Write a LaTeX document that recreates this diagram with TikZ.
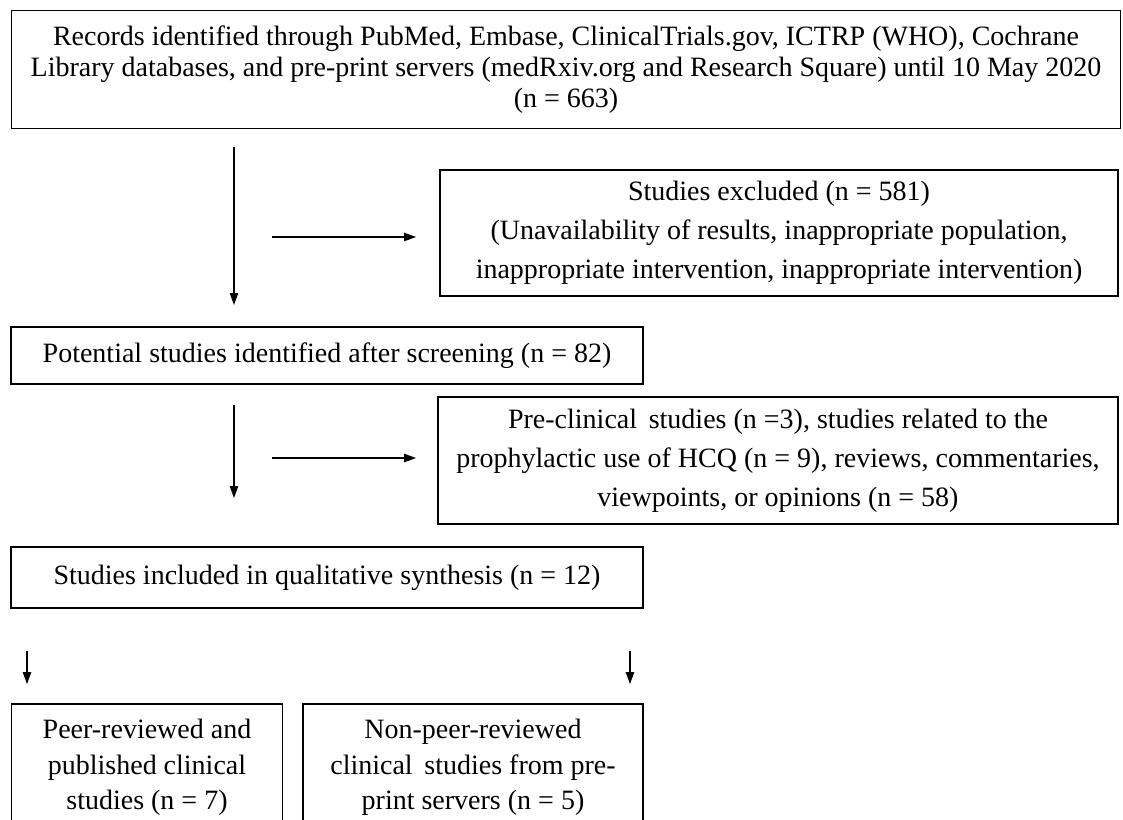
\documentclass[tikz,border=0pt]{standalone}
\usepackage{fontspec}
\setmainfont{Liberation Serif}
\usetikzlibrary{arrows.meta}
\begin{document}
\begin{tikzpicture}[x=1pt,y=-1pt,
  box/.style={draw, line width=1.1pt, inner sep=0pt, align=center, font=\fontsize{28}{31}\selectfont},
  wide/.style={font=\fontsize{28}{39}\selectfont},
  mid/.style={font=\fontsize{28}{35.5}\selectfont},
  arr/.style={line width=1.1pt, -{Triangle[length=12pt,width=8.5pt]}}]
\useasboundingbox (0,0) rectangle (1123,819);
\clip (0,0) rectangle (1123,819);
\node[box, minimum width=1109pt, minimum height=118pt] (records) at (566,69.5)
  {Records identified through PubMed, Embase, ClinicalTrials.gov, ICTRP (WHO), Cochrane\\
   Library databases, and pre-print servers (medRxiv.org and Research Square) until 10 May 2020\\
   (n = 663)};
\node[box, wide, minimum width=678pt, minimum height=126pt] (excluded) at (779,233)
  {Studies excluded (n = 581)\\
   (Unavailability of results, inappropriate population,\\
   inappropriate intervention, inappropriate intervention)};
\node[box, minimum width=632pt, minimum height=57pt] (potential) at (327,355.5)
  {Potential studies identified after screening (n = 82)};
\node[box, wide, minimum width=680pt, minimum height=127pt] (preclin) at (778,460.5)
  {Pre-clinical\, studies (n =3), studies related to the\\
   prophylactic use of HCQ (n = 9), reviews, commentaries,\\
   viewpoints, or opinions (n = 58)};
\node[box, minimum width=632pt, minimum height=61pt] (included) at (327,577.5)
  {Studies included in qualitative synthesis (n = 12)};
\node[box, mid, minimum width=271pt, minimum height=127pt] (peer) at (147,767.5)
  {Peer-reviewed and\\ published clinical\\ studies (n = 7)};
\node[box, mid, minimum width=340pt, minimum height=127pt] (nonpeer) at (473,767.5)
  {Non-peer-reviewed\\ clinical\, studies from pre-\\ print servers (n = 5)};
% arrow end points
\coordinate (a1s) at (234,147);
\coordinate (a1e) at (234,305);
\coordinate (h1s) at (272,237);
\coordinate (h1e) at (416,237);
\coordinate (a2s) at (234,405);
\coordinate (a2e) at (234,498);
\coordinate (h2s) at (272,458);
\coordinate (h2e) at (416,458);
\coordinate (b1s) at (27,651);
\coordinate (b1e) at (27,684);
\coordinate (b2s) at (630,651);
\coordinate (b2e) at (630,684);
\draw[arr] (a1s) -- (a1e);
\draw[arr] (h1s) -- (h1e);
\draw[arr] (a2s) -- (a2e);
\draw[arr] (h2s) -- (h2e);
\draw[arr] (b1s) -- (b1e);
\draw[arr] (b2s) -- (b2e);
\end{tikzpicture}
\end{document}
